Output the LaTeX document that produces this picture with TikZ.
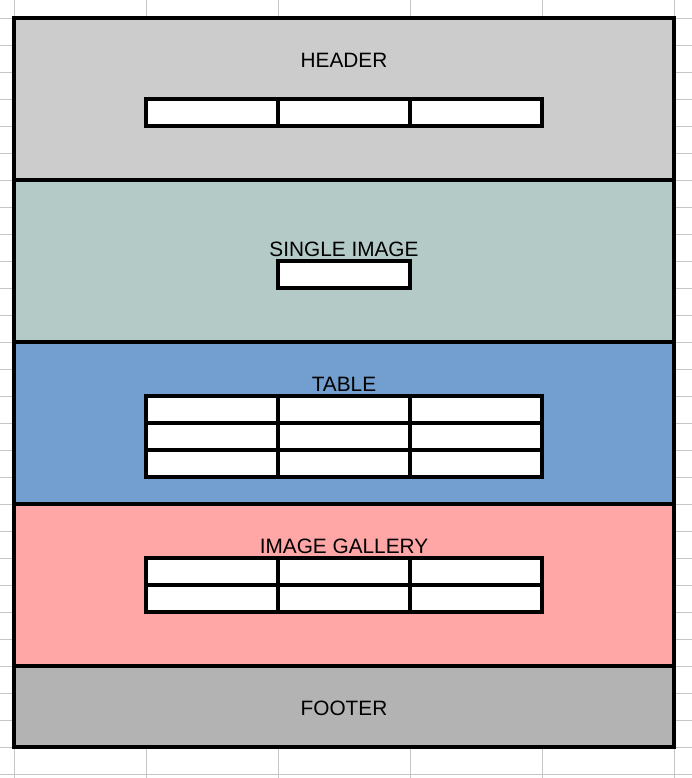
\documentclass[tikz,border=0pt]{standalone}
\usepackage{fontspec}
\setmainfont{Liberation Sans}
\usepackage{tikz}
\usetikzlibrary{positioning}

\definecolor{gridgray}{HTML}{C6C6C6}
\definecolor{headergray}{HTML}{CCCCCC}
\definecolor{imagegreen}{HTML}{B3CAC7}
\definecolor{tableblue}{HTML}{729FCF}
\definecolor{galleryred}{HTML}{FFA6A6}
\definecolor{footergray}{HTML}{B3B3B3}

\begin{document}
\begin{tikzpicture}[x=99pt, y=-20.25pt,
    gridline/.style={draw=gridgray, line width=0.75pt},
    section/.style={draw=black, line width=3pt},
    cell/.style={draw=black, fill=white, line width=3pt},
    sectiontitle/.style={font=\fontsize{15.6}{18}\selectfont, inner sep=0pt}]

    % fix the page size
    \useasboundingbox (-0.10606,-0.66667) rectangle (5.13636,28.14815);

    % draw the spreadsheet grid
    \foreach \c in {0,...,5}
      \draw[gridline] (\c,-0.66667) -- (\c,28.14815);
    \foreach \r in {0,...,28}
      \draw[gridline] (-0.10606,\r) -- (5.13636,\r);

    % draw the five sections
    \draw[section, fill=headergray] (0,0)  rectangle (5,6);
    \draw[section, fill=imagegreen] (0,6)  rectangle (5,12);
    \draw[section, fill=tableblue]  (0,12) rectangle (5,18);
    \draw[section, fill=galleryred] (0,18) rectangle (5,24);
    \draw[section, fill=footergray] (0,24) rectangle (5,27);

    % draw the menu cells in the header
    \foreach \c in {1,2,3}
      \draw[cell] (\c,3) rectangle ++(1,1);

    % draw the single image cell
    \draw[cell] (2,9) rectangle (3,10);

    % draw the 3x3 table
    \foreach \c in {1,2,3}
      \foreach \r in {14,15,16}
        \draw[cell] (\c,\r) rectangle ++(1,1);

    % draw the 3x2 gallery
    \foreach \c in {1,2,3}
      \foreach \r in {20,21}
        \draw[cell] (\c,\r) rectangle ++(1,1);

    % draw the titles of the sections
    \node[sectiontitle] (headertitle)  at (2.5,1.556)  {HEADER};
    \node[sectiontitle] (imagetitle)   at (2.5,8.556)  {SINGLE IMAGE};
    \node[sectiontitle] (tabletitle)   at (2.5,13.556) {TABLE};
    \node[sectiontitle] (gallerytitle) at (2.5,19.556) {IMAGE GALLERY};
    \node[sectiontitle] (footertitle)  at (2.5,25.556) {FOOTER};

\end{tikzpicture}
\end{document}
